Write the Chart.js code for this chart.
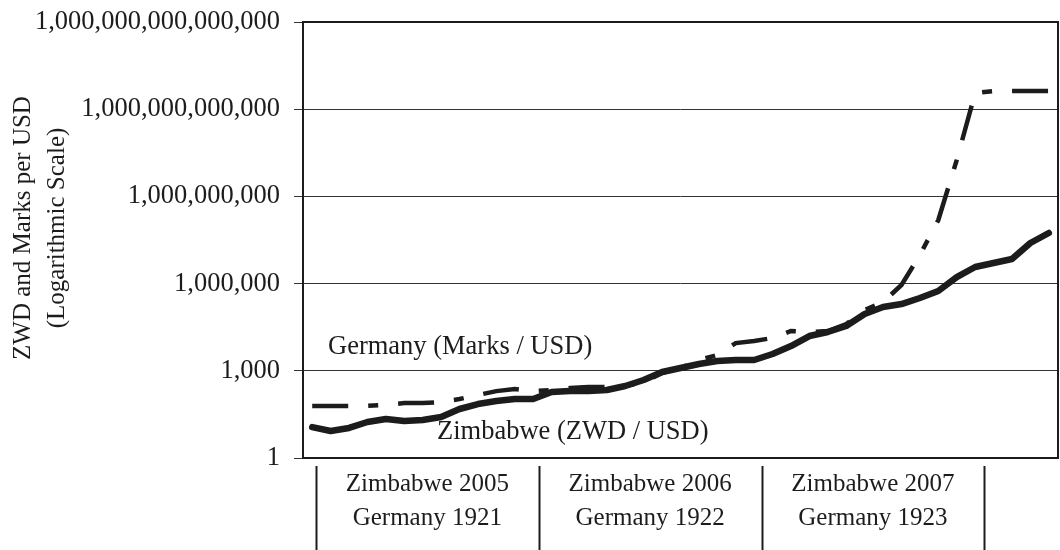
<!DOCTYPE html>
<html>
<head>
<meta charset="utf-8">
<script src="https://cdn.jsdelivr.net/npm/chart.js@4.4.1/dist/chart.umd.min.js"></script>
<style>
  html, body { margin: 0; padding: 0; background: #fff; }
  #wrap { width: 1060px; height: 550px; }
</style>
</head>
<body>
<div id="wrap"><canvas id="chart"></canvas></div>
<script>
// months: Zimbabwe Dec 2004 .. Apr 2008 (Germany Dec 1920 .. Apr 1924)
const months = [
  '2004-12',
  '2005-01', '2005-02', '2005-03', '2005-04', '2005-05', '2005-06', '2005-07', '2005-08', '2005-09', '2005-10', '2005-11', '2005-12',
  '2006-01', '2006-02', '2006-03', '2006-04', '2006-05', '2006-06', '2006-07', '2006-08', '2006-09', '2006-10', '2006-11', '2006-12',
  '2007-01', '2007-02', '2007-03', '2007-04', '2007-05', '2007-06', '2007-07', '2007-08', '2007-09', '2007-10', '2007-11', '2007-12',
  '2008-01', '2008-02', '2008-03', '2008-04'
];

const zimbabwe = [
  11.6,
  8.5, 10.8, 17.3, 22, 18.7, 20.3, 25.7, 48.5, 72, 91, 107, 107,
  186, 202, 202, 218, 300, 482, 908, 1250, 1710, 2170, 2350, 2350,
  3780, 7120, 15700, 21600, 34700, 89900, 156000, 198000, 319000, 556000, 1680000, 3720000,
  5100000, 7010000, 24900000, 55000000
];

const germany = [
  62,
  62, 62, 62, 67, 78, 78, 84, 107, 147, 200, 236, 200,
  218, 256, 277, 277, 300, 410, 840, 1250, 2350, 3500, 9000, 10600,
  13400, 23400, 21600, 23400, 40700, 123000, 232000, 894000, 9600000, 154000000, 17800000000, 3.6e12,
  4.2e12, 4.2e12, 4.2e12, 4.2e12
];

const yTicks = [1, 1e3, 1e6, 1e9, 1e12, 1e15];

const groupLabels = [
  ['Zimbabwe 2005', 'Germany 1921'],
  ['Zimbabwe 2006', 'Germany 1922'],
  ['Zimbabwe 2007', 'Germany 1923']
];
// category index where each label box edge sits
const groupEdges = [0.2, 12.3, 24.4, 36.5];

const seriesNames = ['Zimbabwe (ZWD / USD)', 'Germany (Marks / USD)'];

const FONT = "'Liberation Serif', 'Times New Roman', serif";
const INK = '#1c1c1c';

const decorations = {
  id: 'decorations',
  afterDraw(chart) {
    const ctx = chart.ctx;
    const a = chart.chartArea;
    const xs = chart.scales.x;
    ctx.save();

    // frame of the plot
    ctx.strokeStyle = INK;
    ctx.lineWidth = 2;
    ctx.strokeRect(a.left, a.top, a.right - a.left, a.bottom - a.top);

    ctx.fillStyle = INK;
    ctx.textBaseline = 'middle';

    // series labels inside the plot
    ctx.font = '26.5px ' + FONT;
    ctx.textAlign = 'left';
    ctx.fillText(seriesNames[1], a.left + 25, 347);
    ctx.fillText(seriesNames[0], a.left + 134, 432);

    // axis title
    ctx.font = '25px ' + FONT;
    ctx.save();
    ctx.translate(23, 228);
    ctx.rotate(-Math.PI / 2);
    ctx.textAlign = 'center';
    ctx.fillText('ZWD and Marks per USD', 0, 0);
    ctx.fillText('(Logarithmic Scale)', 0, 34);
    ctx.restore();

    // year boxes under the plot
    ctx.lineWidth = 2;
    groupEdges.forEach(e => {
      const x = Math.round(xs.getPixelForValue(e)) + 0.5;
      ctx.beginPath();
      ctx.moveTo(x, 466);
      ctx.lineTo(x, 550);
      ctx.stroke();
    });
    ctx.textAlign = 'center';
    groupLabels.forEach((lines, i) => {
      const cx = (xs.getPixelForValue(groupEdges[i]) + xs.getPixelForValue(groupEdges[i + 1])) / 2;
      ctx.fillText(lines[0], cx, 484);
      ctx.fillText(lines[1], cx, 518);
    });

    ctx.restore();
  }
};

new Chart(document.getElementById('chart'), {
  type: 'line',
  data: {
    labels: months,
    datasets: [
      {
        label: seriesNames[0],
        data: zimbabwe,
        borderColor: INK,
        borderWidth: 6.5,
        borderCapStyle: 'round',
        borderJoinStyle: 'round',
        pointRadius: 0,
        tension: 0
      },
      {
        label: seriesNames[1],
        data: germany,
        borderColor: INK,
        borderWidth: 4.5,
        borderDash: [36, 20, 10, 20],
        borderCapStyle: 'butt',
        pointRadius: 0,
        tension: 0
      }
    ]
  },
  options: {
    responsive: true,
    maintainAspectRatio: false,
    animation: false,
    layout: { padding: { top: 22, right: 2, bottom: 92, left: 0 } },
    plugins: { legend: { display: false }, tooltip: { enabled: false } },
    scales: {
      x: {
        type: 'category',
        offset: true,
        display: false
      },
      y: {
        type: 'logarithmic',
        min: 1,
        max: 1e15,
        afterBuildTicks: s => { s.ticks = yTicks.map(v => ({ value: v })); },
        afterFit: s => { s.width = 303; s.paddingTop = 0; s.paddingBottom = 0; },
        ticks: {
          padding: 14,
          color: INK,
          font: { family: FONT, size: 26.5 },
          callback: v => Number(v).toLocaleString('en-US')
        },
        grid: { color: '#333', lineWidth: 1, tickLength: 9, drawTicks: true },
        border: { display: false }
      }
    }
  },
  plugins: [decorations]
});
</script>
</body>
</html>
